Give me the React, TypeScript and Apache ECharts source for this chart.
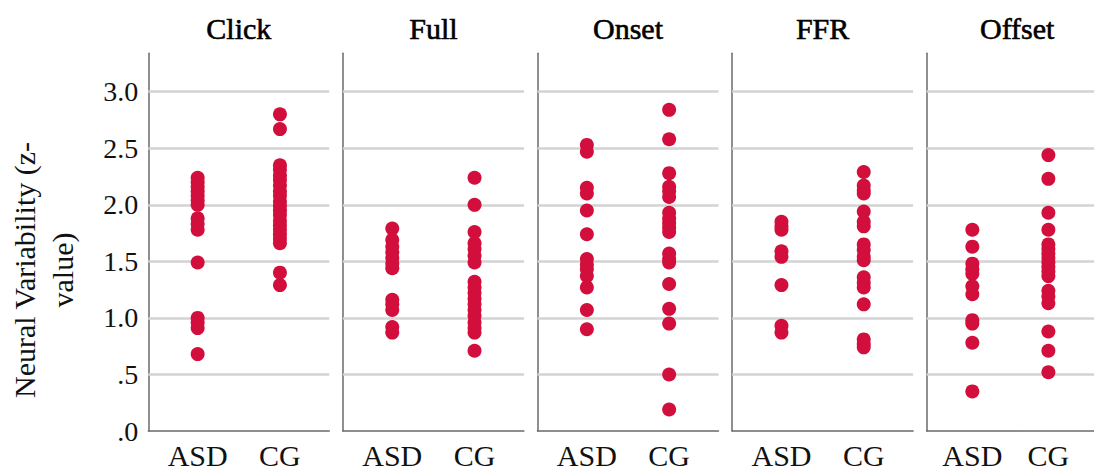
import React, { useEffect, useRef } from "react";
import * as echarts from "echarts";

const panels = ["Click", "Full", "Onset", "FFR", "Offset"];
const groups = ["ASD", "CG"];
const yTicks = [0, 0.5, 1.0, 1.5, 2.0, 2.5, 3.0];
const yTickLabels = [".0", ".5", "1.0", "1.5", "2.0", "2.5", "3.0"];
const gridValues = [0.5, 1.0, 1.5, 2.0, 2.5, 3.0];

const clickASD = [2.24, 2.2, 2.16, 2.12, 2.08, 2.04, 2.0, 1.88, 1.83, 1.78, 1.49, 1.0, 0.96, 0.91, 0.68];
const clickCG = [2.8, 2.67, 2.35, 2.31, 2.26, 2.22, 2.17, 2.12, 2.08, 2.03, 1.99, 1.95, 1.91, 1.86, 1.82, 1.78, 1.74, 1.7, 1.66, 1.4, 1.29];
const fullASD = [1.79, 1.69, 1.63, 1.58, 1.53, 1.48, 1.44, 1.16, 1.12, 1.07, 0.92, 0.87];
const fullCG = [2.24, 2.0, 1.76, 1.66, 1.61, 1.55, 1.49, 1.32, 1.27, 1.22, 1.17, 1.12, 1.07, 1.02, 0.96, 0.91, 0.87, 0.71];
const onsetASD = [2.53, 2.47, 2.15, 2.1, 1.95, 1.74, 1.52, 1.47, 1.43, 1.37, 1.27, 1.07, 0.9];
const onsetCG = [2.84, 2.58, 2.28, 2.16, 2.12, 2.07, 1.93, 1.88, 1.84, 1.8, 1.76, 1.57, 1.52, 1.49, 1.3, 1.08, 0.95, 0.5, 0.19];
const ffrASD = [1.85, 1.81, 1.78, 1.59, 1.54, 1.29, 0.93, 0.87];
const ffrCG = [2.29, 2.17, 2.13, 2.1, 1.94, 1.85, 1.81, 1.65, 1.6, 1.54, 1.51, 1.36, 1.31, 1.27, 1.12, 0.81, 0.77, 0.74];
const offsetASD = [1.78, 1.63, 1.48, 1.43, 1.39, 1.28, 1.21, 0.98, 0.95, 0.78, 0.35];
const offsetCG = [2.44, 2.23, 1.93, 1.78, 1.65, 1.61, 1.57, 1.53, 1.49, 1.45, 1.41, 1.37, 1.24, 1.19, 1.13, 0.88, 0.71, 0.52];

const panelData = [
  [clickASD, clickCG],
  [fullASD, fullCG],
  [onsetASD, onsetCG],
  [ffrASD, ffrCG],
  [offsetASD, offsetCG],
];

const FONT = "'Liberation Serif', 'Times New Roman', serif";
const DOT = "#d20f3c";

export default function App() {
  const ref = useRef<HTMLDivElement>(null);
  useEffect(() => {
    document.body.style.margin = "0";
    if (!ref.current) return;
    const chart = echarts.init(ref.current, undefined, { renderer: "svg" });
    const left0 = 148.3;
    const step = 194.6;
    const top = 53.3;
    const height = 378.4;
    const width = 181;

    const grids: any[] = [];
    const xAxes: any[] = [];
    const yAxes: any[] = [];
    const series: any[] = [];
    const graphics: any[] = [];

    panels.forEach((name, i) => {
      const left = left0 + i * step;
      grids.push({ left, top, width, height, containLabel: false });
      xAxes.push({
        type: "value",
        gridIndex: i,
        min: 0.4,
        max: 2.6,
        splitLine: { show: false },
        axisTick: { show: false },
        axisLine: { show: true, onZero: false, lineStyle: { color: "#6a6a6a", width: 1.5 } },
        axisLabel: {
          customValues: [1, 2],
          formatter: (v: number) => groups[Math.round(v) - 1] ?? "",
          color: "#111",
          fontFamily: FONT,
          fontSize: 30,
          margin: 9,
        },
      });
      yAxes.push({
        type: "value",
        gridIndex: i,
        min: 0,
        max: 3.34,
        interval: 0.5,
        splitLine: { show: false },
        axisTick: { show: false },
        axisLine: { show: true, lineStyle: { color: "#6a6a6a", width: 1.5 } },
        axisLabel: {
          show: i === 0,
          showMaxLabel: false,
          formatter: (v: number) => {
            const idx = yTicks.findIndex((t) => Math.abs(t - v) < 1e-6);
            return idx >= 0 ? yTickLabels[idx] : "";
          },
          color: "#111",
          fontFamily: FONT,
          fontSize: 28,
          margin: 10,
        },
      });
      panelData[i].forEach((vals, g) => {
        series.push({
          type: "scatter",
          xAxisIndex: i,
          yAxisIndex: i,
          symbol: "circle",
          symbolSize: 14,
          itemStyle: { color: DOT, opacity: 1 },
          data: vals.map((v) => [g + 1, v]),
          z: 5,
          markLine:
            g === 0
              ? {
                  silent: true,
                  symbol: "none",
                  label: { show: false },
                  lineStyle: { color: "#d3d3d3", width: 2.5, type: "solid" },
                  data: gridValues.map((y) => ({ yAxis: y })),
                  z: 1,
                }
              : undefined,
        });
      });
      graphics.push({
        type: "text",
        x: left + width / 2,
        y: 28,
        style: {
          text: name,
          font: `30px ${FONT}`,
          fill: "#000",
          stroke: "#000",
          lineWidth: 0.6,
          textAlign: "center",
          textVerticalAlign: "middle",
        },
      });
    });

    graphics.push({
      type: "text",
      x: 43,
      y: 270,
      rotation: Math.PI / 2,
      style: {
        text: "Neural Variability (z-\nvalue)",
        font: `30px ${FONT}`,
        lineHeight: 38,
        fill: "#111",
        textAlign: "center",
        textVerticalAlign: "middle",
      },
    });

    chart.setOption({
      animation: false,
      backgroundColor: "#ffffff",
      grid: grids,
      xAxis: xAxes,
      yAxis: yAxes,
      series,
      graphic: graphics,
    });
    return () => chart.dispose();
  }, []);
  return <div ref={ref} style={{ width: 1094, height: 470 }} />;
}
